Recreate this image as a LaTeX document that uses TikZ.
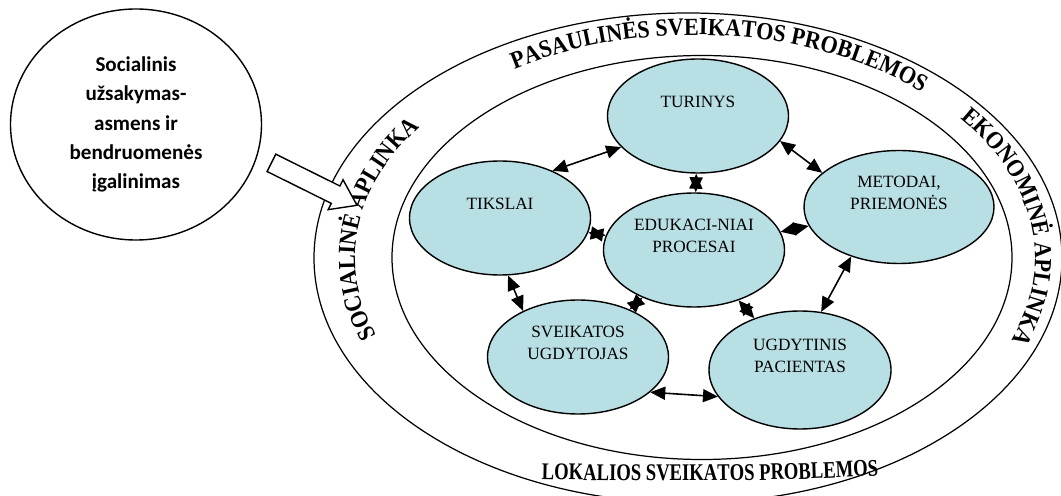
\documentclass[tikz,border=0pt]{standalone}
\usepackage{fontspec}
\setmainfont{Liberation Serif}
\newfontfamily\calibrifont{Carlito}
\newfontfamily\artfont[FakeStretch=0.9]{Liberation Serif}
\newfontfamily\lowartfont[FakeStretch=0.78]{Liberation Serif}
\usetikzlibrary{shapes.geometric,shapes.arrows,arrows.meta,decorations.text,calc}

\definecolor{procblue}{RGB}{184,223,228}
\newcommand{\bandfont}{\artfont\bfseries\fontsize{14}{16}\selectfont}
\newcommand{\lowbandfont}{\lowartfont\bfseries\fontsize{13.6}{15}\selectfont}

\tikzset{
  proc/.style={ellipse, draw, line width=0.8pt, fill=procblue,
    minimum width=3.62cm, minimum height=2.28cm},
  proclbl/.style={align=center, font=\fontsize{9.8}{12.5}\selectfont, yshift=0.28cm},
  conn/.style={line width=0.9pt,
    {Triangle[length=0.3cm,width=0.26cm]}-{Triangle[length=0.3cm,width=0.26cm]}},
  band/.style={decorate, decoration={text along path, text align=center,
    text={|\bandfont|#1}}},
  lowband/.style={decorate, decoration={text along path, text align=center,
    text={|\lowbandfont|#1}}}
}

\begin{document}
\begin{tikzpicture}
  \useasboundingbox (0,0) rectangle (21.22,9.9);
  \clip (0,0) rectangle (21.22,9.9);

  % Environment rings
  \coordinate (mid) at (13.90,4.74);
  \draw[line width=0.7pt] (13.76,4.74) ellipse [x radius=7.48, y radius=4.90];
  \draw[line width=0.7pt] (14.04,4.75) ellipse [x radius=6.20, y radius=4.04];

  % Texts between the rings
  \path[band={PASAULINĖS SVEIKATOS PROBLEMOS}]
    ($(mid)+(125:6.8cm and 4.46cm)$) arc[start angle=125, end angle=45, x radius=6.8cm, y radius=4.46cm];
  \path[band={EKONOMINĖ APLINKA}]
    ($(mid)+(48:6.8cm and 4.46cm)$) arc[start angle=48, end angle=-32, x radius=6.8cm, y radius=4.46cm];
  \path[band={SOCIALINĖ APLINKA}]
    ($(mid)+(205:6.8cm and 4.46cm)$) arc[start angle=205, end angle=140, x radius=6.8cm, y radius=4.46cm];
  \path[lowband={LOKALIOS SVEIKATOS PROBLEMOS}]
    (10.6,0.32) .. controls (13.0,0.26) and (15.4,0.26) .. (17.8,0.40);

  % Process ellipses
  \node[proc, label={[proclbl]center:TURINYS}] (tur) at (13.96,7.58) {};
  \node[proc, label={[proclbl]center:TIKSLAI}] (tik) at (10.00,5.54) {};
  \node[proc, label={[proclbl]center:{EDUKACI-NIAI\\PROCESAI}}] (edu) at (13.88,4.90) {};
  \node[proc, minimum width=3.80cm, minimum height=2.26cm,
    label={[proclbl]center:{METODAI,\\PRIEMONĖS}}] (met) at (17.98,5.76) {};
  \node[proc, label={[proclbl]center:{SVEIKATOS\\UGDYTOJAS}}] (sve) at (11.56,2.76) {};
  \node[proc, minimum width=3.64cm, minimum height=2.36cm,
    label={[proclbl]center:{UGDYTINIS\\PACIENTAS}}] (ugd) at (16.00,2.50) {};

  % Links
  \draw[conn] (tik.42) -- (tur.202);
  \draw[conn] (tur.343) -- (met.156);
  \draw[conn] (tur) -- (edu);
  \draw[conn] (tik) -- (edu);
  \draw[conn] (edu) -- (met);
  \draw[conn] (tik.278) -- (sve.140);
  \draw[conn] (sve) -- (edu);
  \draw[conn] (edu) -- (ugd);
  \draw[conn] (met.226) -- (ugd.70);
  \draw[conn] (sve.334) -- (ugd.198);

  % Social order
  \node[ellipse, draw, line width=0.8pt, minimum width=5.02cm, minimum height=4.62cm,
    align=center, font=\calibrifont\bfseries\fontsize{12}{16.7}\selectfont]
    (order) at (2.72,7.41) {Socialinis\\užsakymas-\\asmens ir\\bendruomenės\\įgalinimas};
  \node[single arrow, draw, fill=white, line width=0.8pt, minimum height=1.91cm,
    inner sep=0.18cm, single arrow head extend=0.14cm, single arrow tip angle=70,
    rotate=-26.4] (push) at (6.16,6.28) {};
\end{tikzpicture}
\end{document}
